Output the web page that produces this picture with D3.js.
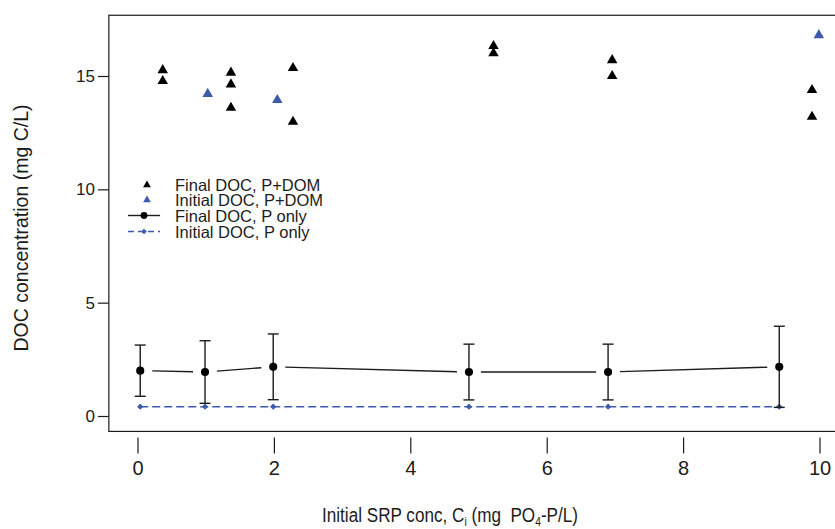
<!DOCTYPE html>
<html>
<head>
<meta charset="utf-8">
<script src="https://cdn.jsdelivr.net/npm/d3@7"></script>
<style>
  body { margin: 0; background: #fff; }
  svg { display: block; font-family: "Liberation Sans", Arial, sans-serif; }
</style>
</head>
<body>
<script>
// P+DOM treatment (triangles)
var srpFinalPdom = [0.37, 0.37, 1.37, 1.37, 1.37, 2.28, 2.28, 5.22, 5.22, 6.96, 6.96, 9.89, 9.89];
var docFinalPdom = [15.26, 14.78, 15.15, 14.63, 13.6, 15.35, 12.98, 16.32, 16.0, 15.7, 15.0, 14.38, 13.2];
var srpInitialPdom = [1.03, 2.05, 9.99];
var docInitialPdom = [14.21, 13.94, 16.8];

// P only treatment (mean +- error)
var srpPonly = [0.04, 0.99, 1.99, 4.86, 6.9, 9.41];
var docFinalPonly = [2.0, 1.94, 2.17, 1.94, 1.94, 2.17];
var errFinalPonly = [1.13, 1.38, 1.45, 1.23, 1.23, 1.79];
var docInitialPonly = [0.41, 0.41, 0.41, 0.41, 0.41, 0.41];

var xTicks = [0, 2, 4, 6, 8, 10];
var yTicks = [0, 5, 10, 15];
var legendLabels = ["Final DOC, P+DOM", "Initial DOC, P+DOM", "Final DOC, P only", "Initial DOC, P only"];

var width = 835, height = 529;
var blue = "#3d5aab";
var ink = "#1c1c1c";

var svg = d3.select("body").append("svg")
    .attr("width", width)
    .attr("height", height);

var xScale = d3.scaleLinear().domain([0, 10]).range([137.5, 819.5]);
var yScale = d3.scaleLinear().domain([0, 15]).range([416, 76]);

// plot box (right side runs off the picture)
var box = { x0: xScale(-0.42), x1: xScale(10.87), y0: yScale(17.68), y1: yScale(-0.68) };
svg.append("rect")
    .attr("x", box.x0).attr("y", box.y0)
    .attr("width", box.x1 - box.x0).attr("height", box.y1 - box.y0)
    .attr("fill", "none").attr("stroke", ink).attr("stroke-width", 1.2);

// y axis
var yAxis = d3.axisLeft(yScale).tickValues(yTicks).tickSize(11).tickPadding(3);
var yG = svg.append("g").attr("transform", "translate(" + box.x0 + ",0)").call(yAxis);
yG.select(".domain").remove();
yG.selectAll("line").attr("stroke", ink).attr("stroke-width", 1.2);
yG.selectAll("text").attr("fill", ink).style("font-size", "17px")
    .style("font-family", "'Liberation Sans', Arial, sans-serif");

// x axis, offset below the box
var xAxis = d3.axisBottom(xScale).tickValues(xTicks).tickSize(16).tickPadding(7);
var xG = svg.append("g").attr("transform", "translate(0," + (box.y1 + 6) + ")").call(xAxis);
xG.select(".domain").remove();
xG.selectAll("line").attr("stroke", ink).attr("stroke-width", 1.2);
xG.selectAll("text").attr("fill", ink).style("font-size", "20px")
    .style("font-family", "'Liberation Sans Narrow', 'Liberation Sans', Arial, sans-serif");

// axis titles
svg.append("text")
    .attr("transform", "translate(28,228) rotate(-90)")
    .attr("text-anchor", "middle")
    .attr("fill", ink)
    .style("font-size", "19.5px")
    .text("DOC concentration (mg C/L)");

var xt = svg.append("text")
    .attr("x", 322).attr("y", 522)
    .attr("fill", ink)
    .attr("textLength", 256).attr("lengthAdjust", "spacingAndGlyphs")
    .style("font-size", "20px")
    .style("white-space", "pre");
xt.append("tspan").text("Initial SRP conc, C");
xt.append("tspan").attr("dy", 4).style("font-size", "12px").text("i");
xt.append("tspan").attr("dy", -4).text(" (mg  PO");
xt.append("tspan").attr("dy", 4).style("font-size", "12px").text("4");
xt.append("tspan").attr("dy", -4).text("-P/L)");

var tri = d3.symbol().type(d3.symbolTriangle).size(48);
var dot = d3.symbol().type(d3.symbolCircle).size(52);
var dia = d3.symbol().type(d3.symbolSquare).size(20);

// initial DOC, P only: dashed blue line with small diamonds
var pOnlyInit = srpPonly.map(function(d, i) { return [d, docInitialPonly[i]]; });
svg.append("path")
    .datum(pOnlyInit)
    .attr("d", d3.line().x(function(d) { return xScale(d[0]); }).y(function(d) { return yScale(d[1]); }))
    .attr("fill", "none")
    .attr("stroke", blue).attr("stroke-width", 1.4)
    .attr("stroke-dasharray", "8,4");
svg.selectAll(".initDia").data(pOnlyInit).enter().append("path")
    .attr("d", dia)
    .attr("transform", function(d) { return "translate(" + xScale(d[0]) + "," + yScale(d[1]) + ") rotate(45)"; })
    .attr("fill", blue);

// final DOC, P only: segments with gaps around points (type "b")
var pOnlyFinal = srpPonly.map(function(d, i) { return [d, docFinalPonly[i], errFinalPonly[i]]; });
var gap = 12;
for (var i = 0; i < pOnlyFinal.length - 1; i++) {
    var ax = xScale(pOnlyFinal[i][0]), ay = yScale(pOnlyFinal[i][1]);
    var bx = xScale(pOnlyFinal[i + 1][0]), by = yScale(pOnlyFinal[i + 1][1]);
    var len = Math.sqrt((bx - ax) * (bx - ax) + (by - ay) * (by - ay));
    var ux = (bx - ax) / len, uy = (by - ay) / len;
    svg.append("line")
        .attr("x1", ax + ux * gap).attr("y1", ay + uy * gap)
        .attr("x2", bx - ux * gap).attr("y2", by - uy * gap)
        .attr("stroke", ink).attr("stroke-width", 1.4);
}

// error bars
var bars = svg.selectAll(".err").data(pOnlyFinal).enter().append("g").attr("class", "err");
bars.append("line")
    .attr("x1", function(d) { return xScale(d[0]); }).attr("x2", function(d) { return xScale(d[0]); })
    .attr("y1", function(d) { return yScale(d[1] - d[2]); }).attr("y2", function(d) { return yScale(d[1] + d[2]); })
    .attr("stroke", ink).attr("stroke-width", 1.4);
[-1, 1].forEach(function(s) {
    bars.append("line")
        .attr("x1", function(d) { return xScale(d[0]) - 5.5; }).attr("x2", function(d) { return xScale(d[0]) + 5.5; })
        .attr("y1", function(d) { return yScale(d[1] + s * d[2]); }).attr("y2", function(d) { return yScale(d[1] + s * d[2]); })
        .attr("stroke", ink).attr("stroke-width", 1.4);
});
svg.selectAll(".finDot").data(pOnlyFinal).enter().append("path")
    .attr("d", dot)
    .attr("transform", function(d) { return "translate(" + xScale(d[0]) + "," + yScale(d[1]) + ")"; })
    .attr("fill", "#000");

// P+DOM triangles
svg.selectAll(".finTri").data(srpFinalPdom).enter().append("path")
    .attr("d", tri)
    .attr("transform", function(d, i) { return "translate(" + xScale(d) + "," + yScale(docFinalPdom[i]) + ")"; })
    .attr("fill", "#000");
svg.selectAll(".initTri").data(srpInitialPdom).enter().append("path")
    .attr("d", tri)
    .attr("transform", function(d, i) { return "translate(" + xScale(d) + "," + yScale(docInitialPdom[i]) + ")"; })
    .attr("fill", blue);

// legend
var legY = [185, 200, 215.5, 231.5];
var leg = svg.append("g");
leg.selectAll("text").data(legendLabels).enter().append("text")
    .attr("x", 175).attr("y", function(d, i) { return legY[i] + 6; })
    .attr("fill", ink)
    .style("font-size", "16.5px")
    .text(function(d) { return d; });
leg.append("path").attr("d", d3.symbol().type(d3.symbolTriangle).size(26))
    .attr("transform", "translate(147," + legY[0] + ")").attr("fill", "#000");
leg.append("path").attr("d", d3.symbol().type(d3.symbolTriangle).size(26))
    .attr("transform", "translate(147," + legY[1] + ")").attr("fill", blue);
leg.append("line").attr("x1", 128).attr("x2", 160).attr("y1", legY[2]).attr("y2", legY[2])
    .attr("stroke", ink).attr("stroke-width", 1.4);
leg.append("path").attr("d", d3.symbol().type(d3.symbolCircle).size(36))
    .attr("transform", "translate(144," + legY[2] + ")").attr("fill", "#000");
leg.append("line").attr("x1", 128).attr("x2", 160).attr("y1", legY[3]).attr("y2", legY[3])
    .attr("stroke", blue).attr("stroke-width", 1.4).attr("stroke-dasharray", "6,4");
leg.append("path").attr("d", d3.symbol().type(d3.symbolSquare).size(16))
    .attr("transform", "translate(144," + legY[3] + ") rotate(45)").attr("fill", blue);
</script>
</body>
</html>
